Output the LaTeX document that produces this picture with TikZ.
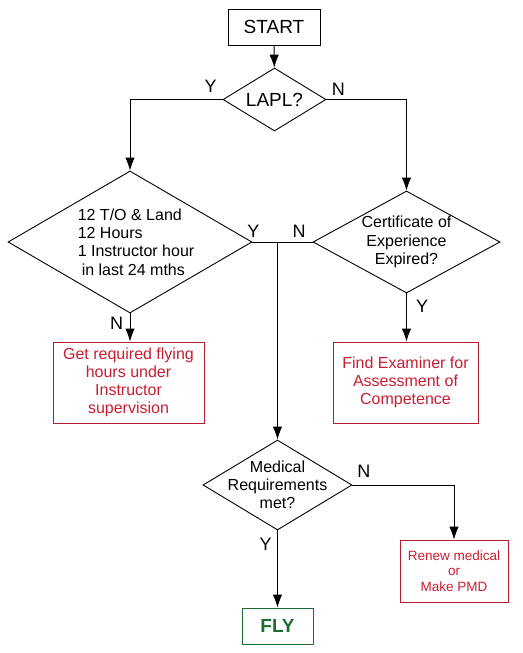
\documentclass[tikz,border=0pt]{standalone}
\usepackage{fontspec}
\setmainfont{Liberation Sans}
\usepackage{tikz}
\usetikzlibrary{arrows.meta, shapes.geometric}

\definecolor{boxred}{RGB}{200,30,50}
\definecolor{flygreen}{RGB}{30,110,50}

\begin{document}
\begin{tikzpicture}[x=1pt, y=-1pt, line width=0.9pt,
        arr/.style={-{Latex[length=13pt, width=9.5pt]}},
        dec/.style={diamond, draw, inner sep=0pt},
        txt/.style={font=\fontsize{16}{18.2}\selectfont, align=center, inner sep=0pt},
        proc/.style={draw, inner sep=0pt, align=center},
        redbox/.style={proc, draw=boxred!90!black, text=boxred, font=\fontsize{16}{18.2}\selectfont},
        yn/.style={font=\fontsize{18}{20}\selectfont, inner sep=0pt}]
    \useasboundingbox (0,0) rectangle (522,653);

    % start and first question
    \node[proc, minimum width=92, minimum height=36, font=\fontsize{19}{21}\selectfont] (start) at (274,27) {START};
    \node[dec, minimum width=103, minimum height=63] (lapl) at (274.5,99.5) {};
    \node[txt, font=\fontsize{19}{21}\selectfont] (lapltxt) at (lapl) {LAPL?};

    % recency and certificate
    \node[dec, minimum width=244, minimum height=142] (hrs) at (130,242) {};
    \node[txt, align=left] (hrstxt) at ([shift={(6,0)}]hrs) {12 T/O \& Land\\12 Hours\\1 Instructor hour\\\hspace{4pt}in last 24 mths};
    \node[dec, minimum width=187, minimum height=102] (cert) at (406.5,242) {};
    \node[txt] (certtxt) at (cert) {Certificate of\\Experience\\Expired?};

    % actions
    \node[redbox, minimum width=151, minimum height=81] (train) at (128.5,382.5) {Get required flying\\hours under\\Instructor\\supervision};
    \node[redbox, minimum width=145, minimum height=81] (exam) at (405.5,382.5) {Find Examiner for\\Assessment of\\Competence};

    % medical
    \node[dec, minimum width=149, minimum height=90] (med) at (277.5,485) {};
    \node[txt] (medtxt) at (med) {Medical\\Requirements\\met?};
    \node[redbox, minimum width=108, minimum height=62, font=\fontsize{13.5}{15.2}\selectfont] (renew) at (454,571) {Renew medical\\or\\Make PMD};
    \node[proc, draw=flygreen, text=flygreen, minimum width=71, minimum height=36, font=\fontsize{19}{20}\selectfont\bfseries] (fly) at (277.5,626) {FLY};

    % connectors
    \draw[arr] (start) -- (lapl);
    \draw[arr] (lapl.west) -| (hrs.north);
    \draw[arr] (lapl.east) -| (cert.north);
    \coordinate (join) at (277.5,242);
    \draw (hrs.east) -- (cert.west);
    \draw[arr] (join) -- (med.north);
    \draw[arr] (hrs.south) -- (hrs.south |- train.north);
    \draw[arr] (cert.south) -- (cert.south |- exam.north);
    \draw[arr] (med.east) -| (renew.north);
    \draw[arr] (med.south) -- (fly.north);

    % Y / N
    \node[yn] (lapl-y) at ([shift={(-12,-13)}]lapl.west) {Y};
    \node[yn] (lapl-n) at ([shift={(12,-10)}]lapl.east) {N};
    \node[yn] (hrs-y) at ([shift={(1,-11)}]hrs.east) {Y};
    \node[yn] (cert-n) at ([shift={(-13.5,-11)}]cert.west) {N};
    \node[yn] (hrs-n) at ([shift={(-13.5,9.5)}]hrs.south) {N};
    \node[yn] (cert-y) at ([shift={(15.5,13)}]cert.south) {Y};
    \node[yn] (med-n) at ([shift={(11.5,-13.5)}]med.east) {N};
    \node[yn] (med-y) at ([shift={(-12,13.5)}]med.south) {Y};
\end{tikzpicture}
\end{document}
